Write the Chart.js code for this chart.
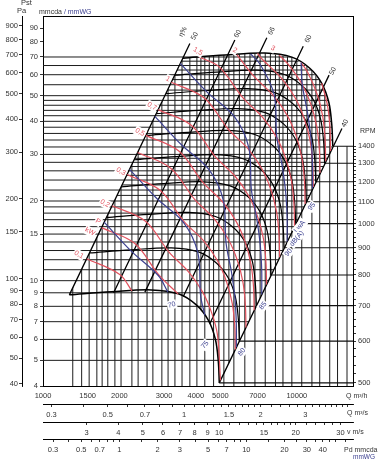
<!DOCTYPE html>
<html><head><meta charset="utf-8">
<script src="https://cdn.jsdelivr.net/npm/chart.js@4.4.1/dist/chart.umd.min.js"></script>
<style>html,body{margin:0;padding:0;background:#fff}canvas{display:block}</style>
</head><body>
<canvas id="c" width="379" height="463"></canvas>
<script>
// ---------------- values ----------------
const qMin = 1000, qMax = 16650;          // Q m3/h
const pMin = 4, pMax = 100;               // static pressure mmcda
const paPerMm = 9.81;                     // Pa per mmcda
const vPerQ = 495;                        // m3/h per 1 m/s outlet velocity
const qAtPd1 = 2000;                      // m3/h where Pd = 1 mmcda
const rpmRef = 1400, pAtRpmRef = 32.2;    // RPM scale reference

const qTicks = [1000,1500,2000,3000,4000,5000,7000,10000];
const qsTicks = [0.3,0.4,0.5,0.6,0.7,0.8,0.9,1,1.1,1.2,1.3,1.4,1.5,1.6,1.7,1.8,1.9,2,2.2,2.4,2.6,2.8,3,3.2,3.4,3.6,3.8,4,4.2,4.4];
const qsLabels = [0.3,0.5,0.7,1,1.5,2,3];
const vTicks = [3,4,5,6,7,8,9,10,11,12,13,14,15,16,17,18,19,20,22,24,26,28,30];
const vLabels = [3,4,5,6,7,8,9,10,15,20,30];
const pdTicks = [0.3,0.4,0.5,0.6,0.7,0.8,0.9,1,1.5,2,3,4,5,6,7,8,9,10,15,20,25,30,35,40,45,50,60];
const pdLabels = [0.3,0.5,0.7,1,2,3,5,7,10,20,30,40];
const mmTicks = [4,5,6,7,8,9,10,15,20,30,40,50,60,70,80,90];
const paTicks = [40,50,60,70,80,90,100,150,200,300,400,500,600,700,800,900];
const rpmTicks = [500,600,700,800,900,1000,1100,1200,1300,1400];
const rpmMinor = [520,540,560,580,620,640,660,680,720,740,760,780,820,840,860,880,920,940,960,980,1020,1040,1060,1080,1120,1140,1160,1180,1220,1240,1260,1280,1320,1340,1360,1380];

// grid lines
const hGridP = [5,6,7,8,9,10,11,12,13,14,15,16,17,18,19,20,22,24,26,28,30,32,34,36,38,40,42,44,46,48,50,55,60,65,70];
const vGridQ = [1310,1420,1520,1630,1710,1800,1920,2030,2240,2370,2570,2710,2940,3110,3310,3530,3790,4040,4340,4700,5160,5650,6240,6840,7510,8240,8820,9560,10460,11470,12310,13480,14470,15770];
const hInnerP = [21,23,25,27,29,52.5,57.5,62.5,67.5];
const vInnerQ = [4190,4520,4930,5400,5940,6540,7170,7870,8530,9190,10000,10960,11890,12890];

// fan curves per RPM (Q m3/h, P mmcda)
const rpmList = [1400,1300,1200,1100,1000,900,800,700,600,500];
const rpmCurveQ = [
 [3557,5207,7482,9557,11250,12540,13370,13730,13860],
 [3303,4835,6948,8874,10446,11644,12415,12749,12870],
 [3049,4463,6413,8192,9643,10749,11460,11769,11880],
 [2795,4091,5879,7509,8839,9853,10505,10788,10890],
 [2541,3719,5344,6826,8036,8957,9550,9807,9900],
 [2287,3347,4810,6144,7232,8061,8595,8826,8910],
 [2033,2975,4275,5461,6429,7166,7640,7846,7920],
 [1779,2604,3741,4779,5625,6270,6685,6865,6930],
 [1524,2232,3207,4096,4821,5374,5730,5884,5940],
 [1270,1860,2672,3413,4018,4479,4775,4904,4950]];
const rpmCurveP = [
 [69.3,71.2,72.4,69.9,63.5,55.7,47.2,39.0,32.2],
 [59.75,61.39,62.43,60.27,54.75,48.03,40.70,33.63,27.76],
 [50.91,52.31,53.19,51.36,46.65,40.92,34.68,28.65,23.66],
 [42.78,43.96,44.70,43.15,39.20,34.39,29.14,24.08,19.88],
 [35.36,36.33,36.94,35.66,32.40,28.42,24.08,19.90,16.43],
 [28.64,29.43,29.92,28.89,26.24,23.02,19.51,16.12,13.31],
 [22.63,23.25,23.64,22.82,20.73,18.19,15.41,12.73,10.51],
 [17.33,17.80,18.10,17.48,15.88,13.93,11.80,9.75,8.05],
 [12.73,13.08,13.30,12.84,11.66,10.23,8.67,7.16,5.91],
 [8.84,9.08,9.23,8.92,8.10,7.10,6.02,4.97,4.11]];

// efficiency lines (eta %)
const etaText = ['50','60','66','60','50','40'];
const etaTopQ = [3790,5700,7620,10600,13400,15060];
const etaTopP = [78.7,81.2,82.7,76.9,59.8,37.6];
const etaBotQ = [1270,1898,2520,3570,4541,4950];
const etaBotP = [8.84,9.0,9.05,8.72,6.87,4.11];
const etaLabelQ = [3960,5850,7960,11100,13860,15490];
const etaLabelP = [84.0,85.6,87.7,81.9,61.9,39.3];

// absorbed power curves (kW)
const powerKW = [0.1,0.15,0.2,0.3,0.4,0.5,0.7,1,1.5,2,2.5,3,3.5,4];
const powerCurveQ = [
 [1487,2006,2240],
 [1702,2296,2854,3411],
 [1873,2527,3143,3753,4253,4620,4867,5005],
 [2144,2892,3597,4297,4869,5288,5569,5697,5728],
 [2360,3184,3959,4730,5359,5821,6129,6270,6305],
 [2542,3429,4265,5095,5773,6270,6602,6754,6791],
 [2844,3837,4771,5700,6459,7014,7387,7556,7598],
 [3203,4321,5373,6419,7273,7900,8319,8510,8557],
 [4121,4946,6150,7348,8326,9043,9522,9741,9795],
 [5805,6770,8088,9164,9953,10481,10722,10780],
 [7002,7293,8712,9872,10722,11291,11550,11613],
 [8520,9258,10490,11393,11997,12273,12341],
 [10400,11043,11994,12630,12921,12991],
 [12540,13205,13509,13583]];
const powerCurveP = [
 [12.11,10.56,9.15],
 [15.86,13.84,10.54,8.9],
 [19.2,16.8,12.8,10.78,9.07,7.56,6.25,4.2],
 [25.17,21.97,16.73,14.13,11.89,9.9,8.19,6.71,5.5],
 [30.5,26.61,20.27,17.12,14.41,12.0,9.92,8.13,6.66],
 [35.4,30.89,23.52,19.87,16.72,13.93,11.51,9.44,7.73],
 [44.3,38.65,29.43,24.86,20.93,17.42,14.41,11.81,9.68],
 [56.18,49.03,37.34,31.54,26.54,22.11,18.27,14.98,12.27],
 [70.0,64.24,48.92,41.33,34.78,28.96,23.94,19.63,16.08],
 [71.5,59.27,50.06,42.14,35.09,29.0,23.78,19.48],
 [72.2,68.78,58.09,48.9,40.72,33.66,27.6,22.61],
 [71.2,65.59,55.21,45.97,38.0,31.16,25.53],
 [66.7,61.19,50.96,42.13,34.54,28.29],
 [55.7,46.04,37.75,30.92]];
const powerLabelText = ['0,1','0,2','0,3','0,5','0,7','1','1,5','2','3','P','kW'];
const powerLabelQ = [1386,1754,2027,2410,2686,3105,4075,5702,8050,1646,1531];
const powerLabelP = [12.54,19.58,25.87,36.4,45.6,57.8,73.6,74.2,75.5,16.72,15.33];

// sound power curves LwA dB(A)
const noiseDB = [70,75,80,85,90,95];
const noiseCurveQ = [
 [1742,2221,2845,3105],
 [2193,2796,3581,4077,4179,4346],
 [2761,3520,4509,5132,5262,5525,5704,5776,5778],
 [3476,4432,5676,6462,6624,6955,7180,7273,7274],
 [6572,7145,8134,8340,8755,9039,9155,9157],
 [10400,10500,11023,11379,11526,11529]];
const noiseCurveP = [
 [16.63,12.96,10.46,9.05],
 [26.35,20.53,16.58,12.72,8.76,7.39],
 [41.75,32.55,26.29,20.16,13.89,10.81,8.59,6.9,5.6],
 [66.18,51.58,41.66,31.95,22.02,17.13,13.61,10.94,8.87],
 [71.9,66.03,50.63,34.89,27.15,21.58,17.34,14.06],
 [66.7,55.31,43.04,34.19,27.48,22.28]];
const noiseLabelQ = [3219,4346,6075,7360,9280,11460];
const noiseLabelP = [8.11,5.72,5.38,8.04,12.77,19.06];

// ---------------- build datasets ----------------
const RED = '#e2525e', BLUE = '#3d4190', TXT = '#333';
const envTop = rpmCurveQ[0].map((q,i)=>[q, rpmCurveP[0][i]]);
const envBot = rpmCurveQ[9].map((q,i)=>[q, rpmCurveP[9][i]]);
const polyH = [[qMin*0.98,pMin*0.95],[qMin*0.98,72.6],[envTop[2][0],72.6], ...envTop.slice(2), envBot[8], [envBot[8][0],pMin*0.95]];
const polyV = [[envBot[0][0]*0.995,pMin*0.95], envBot[0], ...envTop, [qMax*1.05, envTop[8][1]], [qMax*1.05, pMin*0.95]];
const polyE = [envBot[0], ...envTop, ...envBot.slice().reverse()];

function lineSet(pairs){ const d=[]; pairs.forEach(p=>{ d.push({x:p[0],y:p[1]},{x:p[2],y:p[3]},{x:p[0],y:null}); }); return d; }
const datasets = [];
datasets.push({data: lineSet(hGridP.map(p=>[qMin,p,qMax,p])), clipPoly: polyH, borderColor:'#1c1c1c', borderWidth:1, order:50});
datasets.push({data: lineSet(vGridQ.map(q=>[q,pMin,q,pMax])), clipPoly: polyV, borderColor:'#1c1c1c', borderWidth:1, order:50});
datasets.push({data: lineSet(hInnerP.map(p=>[qMin,p,qMax,p])), clipPoly: polyE, borderColor:'#1c1c1c', borderWidth:1, order:50});
datasets.push({data: lineSet(vInnerQ.map(q=>[q,pMin,q,pMax])), clipPoly: polyE, borderColor:'#1c1c1c', borderWidth:1, order:50});
datasets.push({data: lineSet(rpmCurveQ.map((qs,i)=>[qs[8], rpmCurveP[i][8], qMax, rpmCurveP[i][8]])), borderColor:'#111', borderWidth:1.1, order:45});
rpmList.forEach((r,i)=>{
  datasets.push({data: rpmCurveQ[i].map((q,j)=>({x:q,y:rpmCurveP[i][j]})), borderColor:'#000', borderWidth:(i===0||i===9)?1.5:1.2, tension:0.35, order:30});
});
datasets.push({data: lineSet(etaTopQ.map((q,i)=>[q,etaTopP[i],etaBotQ[i],etaBotP[i]])), borderColor:'#000', borderWidth:1.3, order:25});
powerKW.forEach((w,i)=>{
  datasets.push({data: powerCurveQ[i].map((q,j)=>({x:q,y:powerCurveP[i][j]})), borderColor:RED, borderWidth:1.2, tension:0.35, order:20});
});
noiseDB.forEach((l,i)=>{
  datasets.push({data: noiseCurveQ[i].map((q,j)=>({x:q,y:noiseCurveP[i][j]})), borderColor:BLUE, borderWidth:1.2, tension:0.35, order:15});
});
datasets.forEach(d=>{ d.pointRadius=0; d.xAxisID='x'; d.yAxisID='y'; d.spanGaps=false; if(d.tension===undefined) d.tension=0; });

// ---------------- plugin: clipping + texts ----------------
function drawText(ctx, s, x, y, o){
  ctx.save(); ctx.translate(x,y); if(o.rot) ctx.rotate(o.rot*Math.PI/180);
  ctx.font = (o.size||7)+"px 'Liberation Sans Narrow','Liberation Sans',Arial,sans-serif";
  ctx.textAlign = o.align||'center'; ctx.textBaseline='middle';
  if(o.bg){ const w=ctx.measureText(s).width; const x0 = o.align==='left'?0:(o.align==='right'?-w:-w/2); ctx.fillStyle='#fff'; ctx.fillRect(x0-1,-(o.size||7)/2-1,w+2,(o.size||7)+2); }
  ctx.fillStyle=o.color||TXT; ctx.fillText(s,0,0); ctx.restore();
}
const overlay = {
  id:'overlay',
  beforeDatasetDraw(chart,args){
    const ds=chart.data.datasets[args.index]; if(!ds.clipPoly) return;
    const xs=chart.scales.x, ys=chart.scales.y, ctx=chart.ctx;
    ctx.save(); ctx.beginPath();
    ds.clipPoly.forEach((p,i)=>{ const px=xs.getPixelForValue(p[0]), py=ys.getPixelForValue(p[1]); if(i) ctx.lineTo(px,py); else ctx.moveTo(px,py); });
    ctx.closePath(); ctx.clip();
  },
  afterDatasetDraw(chart,args){ const ds=chart.data.datasets[args.index]; if(ds.clipPoly) chart.ctx.restore(); },
  afterDatasetsDraw(chart){
    const ctx=chart.ctx, xs=chart.scales.x, ys=chart.scales.y, a=chart.chartArea;
    const X=q=>xs.getPixelForValue(q), Y=p=>ys.getPixelForValue(p);
    ctx.save(); ctx.strokeStyle='#000'; ctx.lineWidth=1; ctx.beginPath(); ctx.moveTo(a.left,Math.round(a.top)+0.5); ctx.lineTo(a.right,Math.round(a.top)+0.5); ctx.stroke(); ctx.restore();
    drawText(ctx,'η%',X(3557),Y(87.1),{rot:-62,size:7});
    etaText.forEach((t,i)=>drawText(ctx,t,X(etaLabelQ[i]),Y(etaLabelP[i]),{rot:-62,size:7}));
    powerLabelText.forEach((t,i)=>drawText(ctx,t,X(powerLabelQ[i]),Y(powerLabelP[i]),{rot:30,size:7,color:RED,bg:true}));
    noiseDB.forEach((l,i)=>drawText(ctx,String(l),X(noiseLabelQ[i]),Y(noiseLabelP[i]),{rot:i===0?-15:-50,size:7,color:BLUE,bg:true}));
    drawText(ctx,'LwA',X(10270),Y(16.01),{rot:-50,size:7,color:BLUE,bg:true});
    drawText(ctx,'dB(A)',X(10000),Y(14.42),{rot:-50,size:7,color:BLUE,bg:true});
    const yr=chart.scales.yr;
    drawText(ctx,'Pst',21,3,{align:'left',size:7.5});
    drawText(ctx,'Pa',17,11,{align:'left',size:7.5});
    drawText(ctx,'mmcda',39,12,{align:'left',size:7});
    ctx.font="7px 'Liberation Sans Narrow','Liberation Sans',Arial,sans-serif";
    const wm=ctx.measureText('mmcda ').width;
    drawText(ctx,'/ mmWG',39+wm,12,{align:'left',size:7,color:BLUE});
    drawText(ctx,'RPM',yr.left+7,131,{align:'left',size:7});
    const xsA=chart.scales.xs, xvA=chart.scales.xv, xpA=chart.scales.xp;
    drawText(ctx,'Q m³/h',346,xs.top+10,{align:'left',size:7});
    drawText(ctx,'Q m³/s',347,xsA.top+9.5,{align:'left',size:7});
    drawText(ctx,'v m/s',347,xvA.top+10,{align:'left',size:7});
    drawText(ctx,'Pd mmcda',344,xpA.top+11,{align:'left',size:7});
    drawText(ctx,'mmWG',353,xpA.top+18.5,{align:'left',size:6.5,color:BLUE});
  }
};

// ---------------- chart ----------------
const FONT = {family:"'Liberation Sans Narrow','Liberation Sans',Arial,sans-serif", size:7.5};
function setTicks(list){ return s=>{ s.ticks = list.map(v=>({value:v})); }; }
function lab(list){ return v => list.includes(v) ? String(v) : ''; }
function axisBase(extra){
  return Object.assign({
    type:'logarithmic',
    border:{display:true,color:'#000',width:1},
    grid:{drawOnChartArea:false,drawTicks:true,tickLength:3,color:'#000',lineWidth:0.8},
    ticks:{autoSkip:false,maxRotation:0,minRotation:0,font:FONT,color:TXT,padding:3}
  }, extra);
}
Chart.defaults.font.family = FONT.family;
new Chart(document.getElementById('c'), {
  type:'line',
  data:{datasets},
  options:{
    responsive:false, animation:false, events:[],
    layout:{padding:{top:16,bottom:7,left:0,right:0}},
    plugins:{legend:{display:false},tooltip:{enabled:false}},
    scales:{
      x: axisBase({position:'bottom',weight:0,min:qMin,max:qMax,
        grid:{drawOnChartArea:false,drawTicks:false},
        ticks:{autoSkip:false,maxRotation:0,font:FONT,color:TXT,padding:5,callback:lab(qTicks)},
        afterBuildTicks:setTicks(qTicks), afterFit:s=>{s.height=18;}}),
      xs: axisBase({axis:'x',position:'bottom',weight:1,min:qMin/3600,max:qMax/3600,
        ticks:{autoSkip:false,maxRotation:0,font:FONT,color:TXT,padding:3,callback:lab(qsLabels)},
        afterBuildTicks:setTicks(qsTicks), afterFit:s=>{s.height=18;}}),
      xv: axisBase({axis:'x',position:'bottom',weight:2,min:qMin/vPerQ,max:qMax/vPerQ,
        ticks:{autoSkip:false,maxRotation:0,font:FONT,color:TXT,padding:3,callback:lab(vLabels)},
        afterBuildTicks:setTicks(vTicks), afterFit:s=>{s.height=17;}}),
      xp: axisBase({axis:'x',position:'bottom',weight:3,min:Math.pow(qMin/qAtPd1,2),max:Math.pow(qMax/qAtPd1,2),
        ticks:{autoSkip:false,maxRotation:0,font:FONT,color:TXT,padding:3,callback:lab(pdLabels)},
        afterBuildTicks:setTicks(pdTicks), afterFit:s=>{s.height=17;}}),
      y: axisBase({position:'left',weight:0,min:pMin,max:pMax,
        ticks:{autoSkip:false,font:FONT,color:TXT,padding:2,callback:lab(mmTicks)},
        afterBuildTicks:setTicks(mmTicks), afterFit:s=>{s.width=21;}}),
      ypa: axisBase({axis:'y',position:'left',weight:1,min:pMin*paPerMm,max:pMax*paPerMm,
        ticks:{autoSkip:false,font:FONT,color:TXT,padding:1,callback:lab(paTicks)},
        afterBuildTicks:setTicks(paTicks), afterFit:s=>{s.width=22;}}),
      yr: axisBase({axis:'y',position:'right',weight:0,
        min:rpmRef*Math.sqrt(pMin/pAtRpmRef), max:rpmRef*Math.sqrt(pMax/pAtRpmRef),
        grid:{drawOnChartArea:false,drawTicks:true,tickLength:3,color:'#000',lineWidth:0.8},
        ticks:{autoSkip:false,font:FONT,color:TXT,padding:2,callback:lab(rpmTicks)},
        afterBuildTicks:s=>{ s.ticks = rpmTicks.concat(rpmMinor).sort((a,b)=>a-b).map(v=>({value:v})); },
        afterFit:s=>{s.width=26;}})
    }
  },
  plugins:[overlay]
});
</script>
</body></html>
